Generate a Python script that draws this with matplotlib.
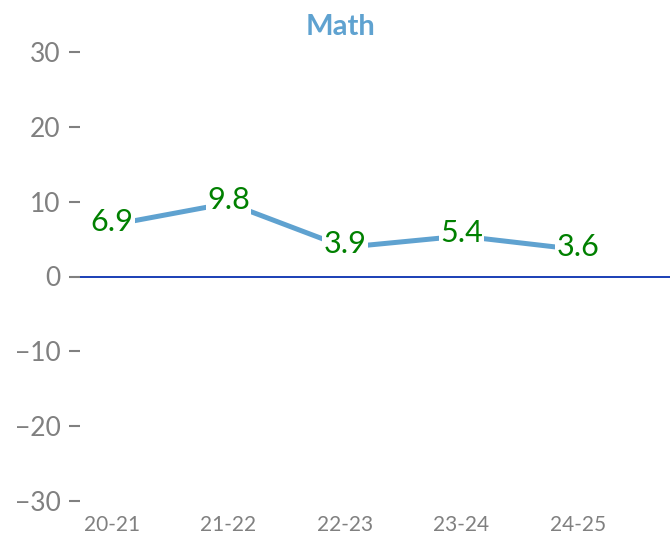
import matplotlib
matplotlib.use("Agg")
import matplotlib.pyplot as plt

# data
years = ["20-21", "21-22", "22-23", "23-24", "24-25"]
math_scores = [6.9, 9.8, 3.9, 5.4, 3.6]
y_ticks = [-30, -20, -10, 0, 10, 20, 30]

plt.rcParams['font.family'] = ['Lato', 'DejaVu Sans']

fig = plt.figure(figsize=(6.7, 5.39), dpi=100)
ax = fig.add_axes([80 / 670, 38 / 539, 590 / 670, 449 / 539])

x = list(range(len(years)))
ax.axhline(0, color='#1a3fb5', lw=1.4, zorder=1)
ax.plot(x, math_scores, color='#5fa2d0', lw=3.6, solid_capstyle='butt', zorder=2)

for xi, v in zip(x, math_scores):
    ax.text(xi, v + 0.4, f"{v:.1f}", ha='center', va='center', color='#008000',
            fontsize=22, zorder=3,
            bbox=dict(facecolor='white', edgecolor='none', pad=1.0))

ax.set_xlim(-0.275, 4.79)
ax.set_ylim(-30, 30)
ax.set_yticks(y_ticks)
ax.set_yticklabels([f"{t}".replace("-", "\u2212") for t in y_ticks])
ax.set_xticks(x)
ax.set_xticklabels(years)

for s in ax.spines.values():
    s.set_visible(False)

ax.tick_params(axis='y', colors='#808080', labelsize=19, length=8, width=1.5, pad=6)
ax.tick_params(axis='x', colors='#808080', labelsize=15, length=0, pad=10)

fig.text(340 / 670, 1 - 27 / 539, "Math", ha='center', va='center',
         color='#5fa2d0', fontsize=21, fontweight='bold')

fig.savefig("out.png", dpi=100)
